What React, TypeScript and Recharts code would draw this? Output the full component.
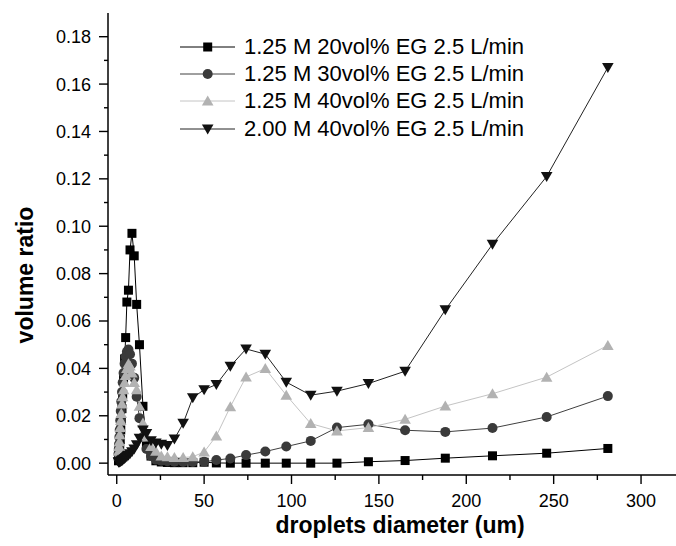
import { LineChart, Line, XAxis, YAxis, Legend } from "recharts";

// droplet size bins (um)
const diameters = [
  1.0, 1.15, 1.3, 1.5, 1.7, 2.0, 2.3, 2.6, 3.0, 3.4, 3.9, 4.5, 5.1, 5.8, 6.7,
  7.6, 8.7, 10, 11.4, 13, 15, 17, 19.6, 22.4, 25.5, 29, 33, 38, 43.5, 50, 57,
  65, 74, 85, 97, 111, 126, 144, 165, 188, 215, 246, 281,
];

const eg20 = [
  0.001, 0.002, 0.003, 0.005, 0.007, 0.01, 0.014, 0.018, 0.023, 0.029, 0.036,
  0.044, 0.053, 0.068, 0.073, 0.09, 0.097, 0.0875, 0.067, 0.05, 0.024, 0.008,
  0.003, 0.001, 0.0005, 0.0003, 0.0002, 0.0002, 0.0002, 0.0004, 0.0001, 0, 0,
  0, 0, 0, 0, 0.0006, 0.0011, 0.0021, 0.0031, 0.0042, 0.0062,
];

const eg30 = [
  0.004, 0.006, 0.008, 0.011, 0.014, 0.018, 0.022, 0.026, 0.03, 0.034, 0.038,
  0.042, 0.045, 0.047, 0.048, 0.046, 0.042, 0.036, 0.028, 0.019, 0.011, 0.006,
  0.003, 0.0015, 0.001, 0.0008, 0.0006, 0.0005, 0.0005, 0.0006, 0.0013, 0.002,
  0.0034, 0.0049, 0.007, 0.0094, 0.015, 0.0164, 0.0139, 0.0132, 0.0148, 0.0195,
  0.0283,
];

const eg40 = [
  0.003, 0.005, 0.007, 0.009, 0.012, 0.015, 0.018, 0.021, 0.025, 0.028, 0.031,
  0.034, 0.037, 0.04, 0.042, 0.041, 0.038, 0.034, 0.031, 0.024, 0.017, 0.011,
  0.007, 0.005, 0.003, 0.0027, 0.0024, 0.0024, 0.0027, 0.0047, 0.0115, 0.0238,
  0.0364, 0.0399, 0.0287, 0.0167, 0.0136, 0.015, 0.0185, 0.0241, 0.0293,
  0.0363, 0.0497,
];

const m200eg40 = [
  0.0005, 0.0005, 0.0005, 0.0005, 0.0006, 0.0007, 0.0008, 0.001, 0.0012,
  0.0014, 0.0017, 0.002, 0.0024, 0.0028, 0.0033, 0.004, 0.0048, 0.006, 0.0078,
  0.0105, 0.014, 0.0125, 0.0095, 0.0085, 0.008, 0.0074, 0.0102, 0.0168, 0.0276,
  0.031, 0.0332, 0.0409, 0.0482, 0.046, 0.0342, 0.0287, 0.0304, 0.0336, 0.0388,
  0.0647, 0.0924, 0.121, 0.167,
];

const xTicks = [0, 25, 50, 75, 100, 125, 150, 175, 200, 225, 250, 275, 300];
const yTicks = [
  0, 0.01, 0.02, 0.03, 0.04, 0.05, 0.06, 0.07, 0.08, 0.09, 0.1, 0.11, 0.12,
  0.13, 0.14, 0.15, 0.16, 0.17, 0.18,
];

const series = [
  { key: "eg20", name: "1.25 M 20vol% EG 2.5 L/min", stroke: "#000000", fill: "#000000", shape: "square" },
  { key: "eg30", name: "1.25 M 30vol% EG 2.5 L/min", stroke: "#404040", fill: "#3a3a3a", shape: "circle" },
  { key: "eg40", name: "1.25 M 40vol% EG 2.5 L/min", stroke: "#c4c4c4", fill: "#b2b2b2", shape: "up" },
  { key: "m200eg40", name: "2.00 M 40vol% EG 2.5 L/min", stroke: "#222222", fill: "#111111", shape: "down" },
];

const data = diameters.map((d, i) => ({
  d,
  eg20: eg20[i],
  eg30: eg30[i],
  eg40: eg40[i],
  m200eg40: m200eg40[i],
}));

const FONT = '"Liberation Sans", Arial, sans-serif';

function Marker({ cx, cy, shape, fill }: any) {
  if (shape === "square") {
    return <rect x={cx - 4.5} y={cy - 4.5} width={9} height={9} fill={fill} />;
  }
  if (shape === "circle") {
    return <circle cx={cx} cy={cy} r={5} fill={fill} />;
  }
  if (shape === "up") {
    return (
      <polygon
        points={`${cx},${cy - 5.5} ${cx + 5.8},${cy + 4.5} ${cx - 5.8},${cy + 4.5}`}
        fill={fill}
      />
    );
  }
  return (
    <polygon
      points={`${cx - 5.8},${cy - 4.5} ${cx + 5.8},${cy - 4.5} ${cx},${cy + 5.5}`}
      fill={fill}
    />
  );
}

function XTick({ x, y, payload }: any) {
  const v = payload.value;
  const major = v % 50 === 0;
  return (
    <g>
      <line x1={x} y1={y} x2={x} y2={y + (major ? 9 : 5)} stroke="#000" strokeWidth={1.4} />
      {major && (
        <text x={x} y={y + 32} textAnchor="middle" fontSize={18} fontFamily={FONT} fill="#000">
          {v}
        </text>
      )}
    </g>
  );
}

function YTick({ x, y, payload }: any) {
  const v = payload.value;
  const major = Math.round(v * 100) % 2 === 0;
  return (
    <g>
      <line x1={x} y1={y} x2={x - (major ? 9 : 4)} y2={y} stroke="#000" strokeWidth={1.4} />
      {major && (
        <text x={x - 17} y={y} dy="0.36em" textAnchor="end" fontSize={18} fontFamily={FONT} fill="#000">
          {v.toFixed(2)}
        </text>
      )}
    </g>
  );
}

function LegendBox() {
  return (
    <div style={{ fontFamily: FONT, fontSize: 22, color: "#000" }}>
      {series.map((s) => (
        <div key={s.key} style={{ display: "flex", alignItems: "center", height: 27.4 }}>
          <svg width={64} height={20} style={{ flex: "none" }}>
            <line x1={0} y1={10} x2={55} y2={10} stroke={s.stroke} strokeWidth={1} />
            <Marker cx={27.7} cy={10} shape={s.shape} fill={s.fill} />
          </svg>
          <span style={{ whiteSpace: "nowrap", lineHeight: 1 }}>{s.name}</span>
        </div>
      ))}
    </div>
  );
}

const xLabel = () => (
  <text x={400} y={533} textAnchor="middle" fontSize={23} fontWeight="bold" fontFamily={FONT} fill="#000">
    droplets diameter (um)
  </text>
);

const yLabel = () => (
  <text
    x={33}
    y={275}
    transform="rotate(-90 33 275)"
    textAnchor="middle"
    fontSize={23}
    fontWeight="bold"
    fontFamily={FONT}
    fill="#000"
  >
    volume ratio
  </text>
);

export default function App() {
  return (
    <div style={{ position: "absolute", left: 0, top: 0, background: "#fff" }}>
      <LineChart
        width={676}
        height={546}
        data={data}
        margin={{ top: 13, right: 0, bottom: 0, left: 0 }}
        style={{ fontFamily: FONT }}
      >
        <XAxis
          dataKey="d"
          type="number"
          domain={[-5, 320]}
          ticks={xTicks}
          interval={0}
          tickSize={0}
          tickMargin={0}
          tickLine={false}
          tick={<XTick />}
          height={71}
          axisLine={{ stroke: "#000", strokeWidth: 1.5 }}
          label={xLabel}
        />
        <XAxis
          xAxisId="top"
          orientation="top"
          dataKey="d"
          type="number"
          domain={[-5, 320]}
          tick={false}
          tickLine={false}
          height={0}
          axisLine={{ stroke: "#000", strokeWidth: 1.5 }}
        />
        <YAxis
          type="number"
          domain={[-0.005, 0.19]}
          ticks={yTicks}
          interval={0}
          tickSize={0}
          tickMargin={0}
          tickLine={false}
          tick={<YTick />}
          width={108}
          axisLine={{ stroke: "#000", strokeWidth: 1.5 }}
          label={yLabel}
        />
        <Legend
          layout="vertical"
          align="center"
          verticalAlign="middle"
          wrapperStyle={{ left: 180, top: 33, width: 380, height: 110 }}
          content={() => <LegendBox />}
        />
        {series.map((s) => (
          <Line
            key={s.key}
            dataKey={s.key}
            name={s.name}
            type="linear"
            stroke={s.stroke}
            strokeWidth={1}
            isAnimationActive={false}
            dot={(p: any) => (
              <Marker key={`${s.key}-${p.index}`} cx={p.cx} cy={p.cy} shape={s.shape} fill={s.fill} />
            )}
            activeDot={false}
          />
        ))}
      </LineChart>
    </div>
  );
}
